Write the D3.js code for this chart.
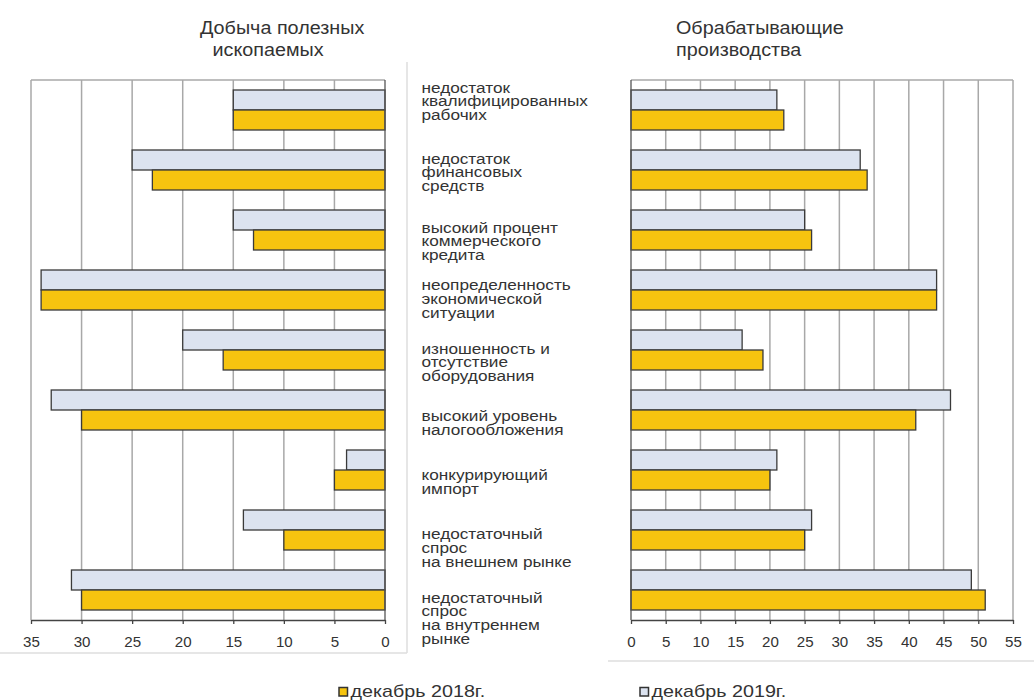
<!DOCTYPE html>
<html><head><meta charset="utf-8">
<script src="https://cdn.jsdelivr.net/npm/d3@7"></script>
<style>
body{margin:0;background:#fff}
svg{display:block}
text{font-family:"Liberation Sans",Arial,sans-serif;fill:#333}
</style>
</head><body><svg id="c" width="1034" height="700"></svg>
<script>
// ---- data ----
const categories = [
  "недостаток квалифицированных рабочих",
  "недостаток финансовых средств",
  "высокий процент коммерческого кредита",
  "неопределенность экономической ситуации",
  "изношенность и отсутствие оборудования",
  "высокий уровень налогообложения",
  "конкурирующий импорт",
  "недостаточный спрос на внешнем рынке",
  "недостаточный спрос на внутреннем рынке"
];
const categoryLines = [
  ["недостаток","квалифицированных","рабочих"],
  ["недостаток","финансовых","средств"],
  ["высокий процент","коммерческого","кредита"],
  ["неопределенность","экономической","ситуации"],
  ["изношенность и","отсутствие","оборудования"],
  ["высокий уровень","налогообложения"],
  ["конкурирующий","импорт"],
  ["недостаточный","спрос","на внешнем рынке"],
  ["недостаточный","спрос","на внутреннем","рынке"]
];
const mining2018 = [15, 23, 13, 34, 16, 30, 5, 10, 30];
const mining2019 = [15, 25, 15, 34, 20, 33, 3.8, 14, 31];
const manuf2018  = [22, 34, 26, 44, 19, 41, 20, 25, 51];
const manuf2019  = [21, 33, 25, 44, 16, 46, 21, 26, 49];
const miningTicks = [35, 30, 25, 20, 15, 10, 5, 0];
const manufTicks  = [0, 5, 10, 15, 20, 25, 30, 35, 40, 45, 50, 55];
const panelTitles = [["Добыча полезных", "ископаемых"], ["Обрабатывающие", "производства"]];
const seriesKeys  = ["2019", "2018"];
const seriesNames = ["декабрь 2018г.", "декабрь 2019г."];

// ---- layout / style ----
const labelNudge = [8.3, 19.3, 28.3, 26, 29.3, 36.7, 36, 35, 38.3];
const colors = {"2018": "#f6c40f", "2019": "#dce3f0"};
const svg = d3.select("#c");
const plotTop = 80, plotBottom = 620;

const y = d3.scaleBand().domain(categories).range([plotTop, plotBottom]).padding(0);
const ySub = d3.scaleBand().domain(seriesKeys).range([0, y.bandwidth()]).paddingInner(0).paddingOuter(0.5);

const xL = d3.scaleLinear().domain([35, 0]).range([31, 385]);
const xR = d3.scaleLinear().domain([0, 55]).range([631, 1013]);

// outer light frames
svg.append("line").attr("x1", 407).attr("x2", 407).attr("y1", 62).attr("y2", 653).attr("stroke", "#dedede").attr("stroke-width", 1.5);
svg.append("line").attr("x1", 0).attr("x2", 407).attr("y1", 653).attr("y2", 653).attr("stroke", "#dedede").attr("stroke-width", 1.5);
svg.append("line").attr("x1", 608).attr("x2", 1034).attr("y1", 661).attr("y2", 661).attr("stroke", "#dedede").attr("stroke-width", 1.5);

function panel(x, ticks, d2018, d2019) {
  const g = svg.append("g");
  const [r0, r1] = d3.extent(x.range());
  g.selectAll("line.grid").data(ticks.filter(t => t !== 0)).join("line")
    .attr("x1", d => x(d)).attr("x2", d => x(d)).attr("y1", plotTop).attr("y2", plotBottom)
    .attr("stroke", "#a8a8a8").attr("stroke-width", 1.5);
  g.append("line").attr("x1", r0).attr("x2", r1).attr("y1", plotTop).attr("y2", plotTop)
    .attr("stroke", "#a8a8a8").attr("stroke-width", 1.5);
  const rows = categories.map((c, i) => ({c, v: {"2018": d2018[i], "2019": d2019[i]}}));
  const rg = g.selectAll("g.row").data(rows).join("g").attr("transform", d => `translate(0,${y(d.c)})`);
  rg.selectAll("rect").data(d => seriesKeys.map(k => ({k, v: d.v[k]}))).join("rect")
    .attr("x", d => Math.min(x(0), x(d.v)))
    .attr("width", d => Math.abs(x(d.v) - x(0)))
    .attr("y", d => ySub(d.k))
    .attr("height", ySub.bandwidth())
    .attr("fill", d => colors[d.k])
    .attr("stroke", "#3a3a3a").attr("stroke-width", 1.3);
  g.append("line").attr("x1", x(0)).attr("x2", x(0)).attr("y1", plotTop).attr("y2", plotBottom)
    .attr("stroke", "#555").attr("stroke-width", 1.3);
  const ax = g.append("g").attr("transform", `translate(0,${plotBottom})`)
    .call(d3.axisBottom(x).tickValues(ticks).tickSize(4).tickSizeOuter(0).tickPadding(13).tickFormat(d3.format("d")));
  ax.select(".domain").attr("stroke", "#444").attr("stroke-width", 1.6);
  ax.selectAll(".tick line").attr("stroke", "#444").attr("stroke-width", 1.3);
  ax.selectAll(".tick text").attr("fill", "#333").style("font-size", "14px")
    .style("font-family", '"Liberation Sans",Arial,sans-serif')
    .attr("transform", "scale(1.08,1)");
}
panel(xL, miningTicks, mining2018, mining2019);
panel(xR, manufTicks, manuf2018, manuf2019);

function stext(x, yy, s, size, sx, anchor) {
  svg.append("text").attr("transform", `translate(${x},${yy}) scale(${sx},1)`)
    .attr("text-anchor", anchor || "start").style("font-size", size + "px").text(s);
}

stext(200, 34, panelTitles[0][0], 17.5, 1.13);
stext(212.5, 55.5, panelTitles[0][1], 17.5, 1.13);
stext(676, 34, panelTitles[1][0], 17.5, 1.13);
stext(676, 55.5, panelTitles[1][1], 17.5, 1.13);

categoryLines.forEach((lines, i) => {
  const y0 = y(categories[i]) + labelNudge[i] + 4.2;
  lines.forEach((s, j) => stext(421.5, y0 + j * 13.8, s, 15.5, 1.11));
});

const legX = [339, 640];
const legKeys = ["2018", "2019"];
legKeys.forEach((k, i) => {
  svg.append("rect").attr("x", legX[i]).attr("y", 687.5).attr("width", 8.5).attr("height", 8.5)
    .attr("fill", colors[k]).attr("stroke", "#333").attr("stroke-width", 1.5);
  stext(legX[i] + 11.5, 697, seriesNames[i], 17, 1.16);
});
</script>
</body></html>
